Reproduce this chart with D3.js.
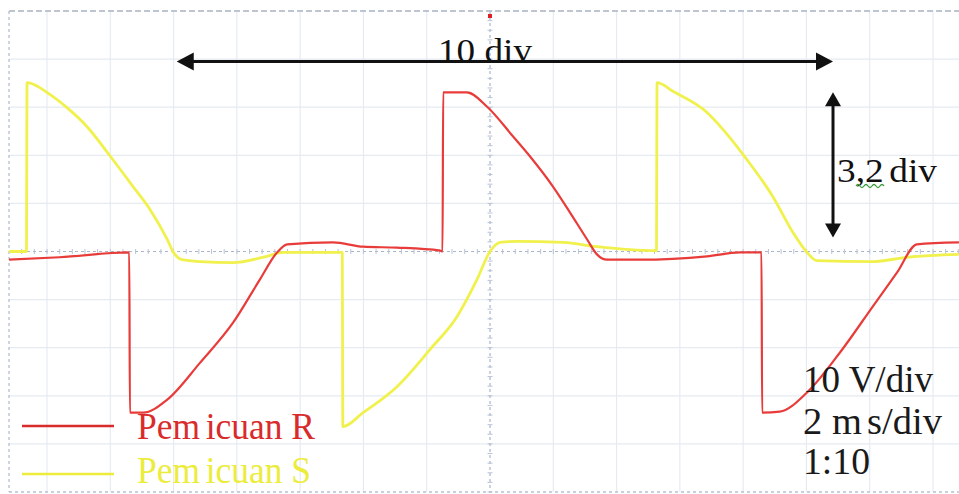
<!DOCTYPE html>
<html>
<head>
<meta charset="utf-8">
<script src="https://cdn.jsdelivr.net/npm/d3@7"></script>
<style>
  html, body { margin: 0; padding: 0; background: #fff; }
  svg { display: block; }
</style>
</head>
<body>
<svg id="scope" width="959" height="494"></svg>
<script>
// Trigger pulse R: time (ms) and voltage (V)
const redTime = [-15.2, -13.6, -11.40, -11.38, -10.96, -10.2, -9.16, -8.12, -7.27, -6.73, -6.41, -4.96, -4.01, -2.94, -1.58,
  -1.50, -1.48, -0.73, -0.09, 0.73, 1.26, 1.99, 2.53, 3.07, 3.38, 3.70, 4.74, 6.86, 7.90,
  8.58, 8.60, 9.16, 10.02, 11.06, 12.10, 12.86, 13.49, 14.82];
const redVolt = [-1.7, -1.2, -0.2, -33.5, -33.5, -30.8, -23.1, -14.8, -5.8, -0.2, 1.5, 1.9, 1.0, 0.8, 0.2,
  0, 33.1, 33.1, 30.1, 23.9, 19.8, 13.5, 8.1, 2.5, -0.6, -1.7, -1.7, -1.0, -0.2,
  -0.2, -33.5, -33.3, -29.3, -21.0, -11.4, -4.4, 1.5, 1.9];

// Trigger pulse S: time (ms) and voltage (V)
const yelTime = [-15.2, -14.65, -14.63, -13.9, -13.37, -12.74, -12.0, -11.28, -10.74, -10.2, -10.02, -9.73, -9.16, -8.12, -7.05, -6.54,
  -4.67, -4.65, -4.01, -2.94, -1.90, -1.04, -0.41, 0, 0.32, 0.85, 2.31, 3.38, 4.42,
  5.26, 5.28, 5.78, 6.86, 7.36, 8.12, 8.94, 9.57, 10.02, 10.33, 12.10, 13.17, 14.82];
const yelVolt = [0, 0, 35.1, 32.6, 29.9, 26.0, 19.8, 13.5, 8.7, 2.5, 0, -1.7, -2.1, -2.3, -1.0, -0.2,
  -0.2, -36.4, -33.5, -28.1, -20.4, -13.5, -5.8, 0, 1.9, 2.1, 1.9, 1.0, 0.4,
  0.2, 35.1, 33.3, 28.9, 25.4, 19.1, 11.4, 4.0, -0.2, -1.9, -2.1, -1.2, -0.6];

// Screen divisions: 2 ms/div horizontally, 10 V/div vertically
const timeTicks = d3.range(-14, 15, 2);
const voltTicks = d3.range(-50, 51, 10);

const legendNames = ["Pemicuan R", "Pemicuan S"];
const scaleNotes = ["10 V/div", "2 ms/div", "1:10"];

const colors = { red: "#e83c3a", redDark: "#d92b2b", yellow: "#f1f14e", yellowText: "#ecec3c" };
const serif = '"Liberation Serif", "Times New Roman", serif';

const svg = d3.select("#scope");
const W = 959, H = 494;

const x = d3.scaleLinear().domain([-14, 14]).range([47, 933]);
const y = d3.scaleLinear().domain([-50, 50]).range([492, 11]);

svg.append("rect").attr("width", W).attr("height", H).attr("fill", "#fff");

// Graticule
const grid = svg.append("g");
grid.selectAll("line.v").data(timeTicks.filter(d => d !== 0)).join("line")
  .attr("x1", d => x(d)).attr("x2", d => x(d))
  .attr("y1", y(50)).attr("y2", y(-50))
  .attr("stroke", "#e6ebf2").attr("stroke-width", 1.2);
grid.selectAll("line.h").data(voltTicks.filter(d => d !== 0 && Math.abs(d) !== 50)).join("line")
  .attr("x1", x(-15.2)).attr("x2", W)
  .attr("y1", d => y(d)).attr("y2", d => y(d))
  .attr("stroke", "#e6ebf2").attr("stroke-width", 1.2);

// Frame edges
grid.append("line").attr("x1", x(-15.2)).attr("x2", W).attr("y1", y(50)).attr("y2", y(50))
  .attr("stroke", "#a9b3c2").attr("stroke-width", 1.3).attr("stroke-dasharray", "6,3");
grid.append("line").attr("x1", x(-15.2)).attr("x2", W).attr("y1", y(-50)).attr("y2", y(-50))
  .attr("stroke", "#b4c0d4").attr("stroke-width", 1.3).attr("stroke-dasharray", "3,3");
grid.append("line").attr("x1", x(-15.2)).attr("x2", x(-15.2)).attr("y1", y(50)).attr("y2", y(-50))
  .attr("stroke", "#b4c0d4").attr("stroke-width", 1.3).attr("stroke-dasharray", "3,3");

// Centre axes with minor ticks
grid.append("line").attr("x1", x(-15.2)).attr("x2", W).attr("y1", y(0)).attr("y2", y(0))
  .attr("stroke", "#a8b6cc").attr("stroke-width", 1.2).attr("stroke-dasharray", "3,3");
grid.append("line").attr("x1", x(0)).attr("x2", x(0)).attr("y1", y(50)).attr("y2", y(-50))
  .attr("stroke", "#a8b6cc").attr("stroke-width", 1.2).attr("stroke-dasharray", "3,3");
grid.selectAll("line.mt").data(d3.range(-75, 75).map(i => i * 0.4).filter(v => v > -15.2 && v < 14.9)).join("line")
  .attr("x1", d => x(d)).attr("x2", d => x(d))
  .attr("y1", y(0) - 2.5).attr("y2", y(0) + 2.5)
  .attr("stroke", "#b9c4d6").attr("stroke-width", 1);
grid.selectAll("line.mv").data(d3.range(-25, 26).map(i => i * 2)).join("line")
  .attr("x1", x(0) - 2.5).attr("x2", x(0) + 2.5)
  .attr("y1", d => y(d)).attr("y2", d => y(d))
  .attr("stroke", "#b9c4d6").attr("stroke-width", 1);

// Trigger marker
svg.append("rect").attr("x", x(0) - 2).attr("y", y(50) + 3).attr("width", 4).attr("height", 4).attr("fill", "#e02020");

// Traces
const line = d3.line().x(d => x(d[0])).y(d => y(d[1])).curve(d3.curveMonotoneX);
const yelData = yelTime.map((t, i) => [t, yelVolt[i]]);
const redData = redTime.map((t, i) => [t, redVolt[i]]);

svg.append("path").datum(yelData).attr("d", line)
  .attr("fill", "none").attr("stroke", colors.yellow).attr("stroke-width", 2.8).attr("stroke-linejoin", "round");
svg.append("path").datum(redData).attr("d", line)
  .attr("fill", "none").attr("stroke", colors.red).attr("stroke-width", 2.2).attr("stroke-linejoin", "round");

// Measurement arrows
const ann = svg.append("g").attr("fill", "#111").attr("stroke", "#111");
const ax0 = x(-9.9), ax1 = x(10.84), ay = y(39.5);
ann.append("line").attr("x1", ax0 + 10).attr("x2", ax1 - 10).attr("y1", ay).attr("y2", ay).attr("stroke-width", 3.2);
ann.append("path").attr("stroke", "none").attr("d", `M${ax0},${ay} L${ax0 + 17},${ay - 9} L${ax0 + 17},${ay + 9} Z`);
ann.append("path").attr("stroke", "none").attr("d", `M${ax1},${ay} L${ax1 - 17},${ay - 9} L${ax1 - 17},${ay + 9} Z`);

const vx = x(10.84), vy0 = y(33.1), vy1 = y(2.9);
ann.append("line").attr("x1", vx).attr("x2", vx).attr("y1", vy0 + 8).attr("y2", vy1 - 8).attr("stroke-width", 3);
ann.append("path").attr("stroke", "none").attr("d", `M${vx},${vy0} L${vx - 8},${vy0 + 14} L${vx + 8},${vy0 + 14} Z`);
ann.append("path").attr("stroke", "none").attr("d", `M${vx},${vy1} L${vx - 8},${vy1 - 14} L${vx + 8},${vy1 - 14} Z`);

function label(xp, yp, size, width, fill) {
  return svg.append("text").attr("x", xp).attr("y", yp)
    .style("font-family", serif).attr("font-size", size).attr("fill", fill)
    .attr("textLength", width).attr("lengthAdjust", "spacingAndGlyphs");
}

label(438, 62, 34, 94, "#111").text("10 div");

const vlabel = label(837, 182, 33, 100, "#111");
vlabel.append("tspan").text("3,2");
vlabel.append("tspan").attr("dx", 5).text("div");
// spell-check squiggle under the decimal
svg.append("path").attr("fill", "none").attr("stroke", "#3c9a3c").attr("stroke-width", 1.3)
  .attr("d", "M856,186 q2,-3 4,0 q2,3 4,0 q2,-3 4,0 q2,3 4,0 q2,-3 4,0 q2,3 4,0 q2,-3 4,0");

// Legend
const legendColors = [colors.redDark, colors.yellowText];
const legendY = [426, 474];
const legendTextY = [439, 483];
const legendWidth = [178, 174];
legendNames.forEach((name, i) => {
  svg.append("line").attr("x1", 22).attr("x2", 114).attr("y1", legendY[i]).attr("y2", legendY[i])
    .attr("stroke", legendColors[i]).attr("stroke-width", 2.6);
  const t = label(137, legendTextY[i], 37, legendWidth[i], legendColors[i]);
  t.append("tspan").text(name.slice(0, 3));
  t.append("tspan").attr("dx", 6).text(name.slice(3));
});

// Scale notes
const noteY = [392, 434, 474];
const noteWidth = [130, 139, 67];
scaleNotes.forEach((s, i) => {
  const t = label(803, noteY[i], 37, noteWidth[i], "#1a1a1a");
  if (s === "2 ms/div") {
    t.append("tspan").text("2 m");
    t.append("tspan").attr("dx", 5).text("s/div");
  } else {
    t.text(s);
  }
});
</script>
</body>
</html>
